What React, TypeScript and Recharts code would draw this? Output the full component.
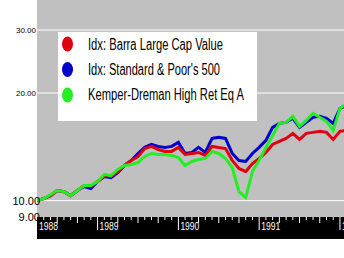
import { CartesianGrid, Legend, Line, LineChart, ReferenceLine, XAxis, YAxis } from 'recharts';

const MONTHS = [
  'Apr 1988', 'May 1988', 'Jun 1988', 'Jul 1988', 'Aug 1988', 'Sep 1988', 'Oct 1988', 'Nov 1988', 'Dec 1988',
  'Jan 1989', 'Feb 1989', 'Mar 1989', 'Apr 1989', 'May 1989', 'Jun 1989', 'Jul 1989', 'Aug 1989', 'Sep 1989',
  'Oct 1989', 'Nov 1989', 'Dec 1989',
  'Jan 1990', 'Feb 1990', 'Mar 1990', 'Apr 1990', 'May 1990', 'Jun 1990', 'Jul 1990', 'Aug 1990', 'Sep 1990',
  'Oct 1990', 'Nov 1990', 'Dec 1990',
  'Jan 1991', 'Feb 1991', 'Mar 1991', 'Apr 1991', 'May 1991', 'Jun 1991', 'Jul 1991', 'Aug 1991', 'Sep 1991',
  'Oct 1991', 'Nov 1991', 'Dec 1991',
  'Jan 1992', 'Feb 1992',
];

const BARRA_VALUE = [
  10.0, 10.13, 10.33, 10.67, 10.6, 10.33, 10.67, 11.02, 10.95, 11.31, 11.75, 11.68, 12.06, 12.54, 12.95, 13.29,
  13.99, 14.18, 13.9, 13.73, 13.73, 14.09, 13.46, 13.55, 13.64, 13.38, 14.18, 14.09, 13.99, 12.95, 12.3, 12.06,
  12.7, 13.12, 13.64, 14.36, 14.64, 14.93, 15.42, 14.83, 15.42, 15.52, 15.62, 15.52, 14.83, 15.62, 15.72,
];

const SP500 = [
  10.0, 10.13, 10.33, 10.67, 10.6, 10.33, 10.67, 10.95, 10.81, 11.31, 11.68, 11.6, 11.98, 12.54, 12.95, 13.55,
  14.09, 14.36, 14.18, 14.09, 14.18, 14.55, 13.55, 13.64, 14.09, 13.64, 14.93, 15.03, 14.93, 13.55, 12.95, 12.87,
  13.55, 14.09, 14.74, 16.03, 16.45, 16.56, 16.99, 16.03, 16.56, 17.1, 17.21, 16.99, 16.45, 18.12, 18.48,
];

const KEMPER = [
  10.0, 10.13, 10.39, 10.67, 10.6, 10.33, 10.67, 11.02, 11.02, 11.31, 11.83, 11.75, 12.22, 12.54, 12.62, 12.78,
  13.29, 13.55, 13.46, 13.46, 13.38, 13.2, 12.54, 12.87, 13.03, 13.12, 13.73, 13.55, 13.12, 12.38, 10.6, 10.2,
  12.06, 12.95, 14.09, 15.22, 16.45, 16.56, 17.21, 16.13, 16.77, 17.55, 17.1, 16.66, 15.72, 18.12, 18.72,
];

const Y_TICKS = [9, 10, 20, 30];
const GRID_VALUES = [10, 20, 30];

const YEAR_LABELS = ['1988', '1989', '1990', '1991', '1992'];
const YEAR_START = [0, 9, 21, 33, 45];

const SERIES = [
  { key: 'barra', name: 'Idx: Barra Large Cap Value', color: '#e00010', textWidth: 135 },
  { key: 'sp', name: "Idx: Standard & Poor's 500", color: '#0000cc', textWidth: 132 },
  { key: 'kemper', name: 'Kemper-Dreman High Ret Eq A', color: '#22ee22', textWidth: 156 },
];

const data = MONTHS.map((label, i) => ({
  m: i,
  label,
  barra: BARRA_VALUE[i],
  sp: SP500[i],
  kemper: KEMPER[i],
}));

const monthTicks = MONTHS.map((_, i) => i);

const NARROW = "'Liberation Sans Narrow', 'Liberation Sans', Arial, sans-serif";

function YTick({ x, y, payload }: any) {
  const big = payload.value < 15;
  return (
    <text
      x={big ? x + 3 : x - 1}
      y={y + (big ? 4 : 3)}
      textAnchor="end"
      fontFamily="'Liberation Sans', Arial, sans-serif"
      fontSize={big ? 11 : 8}
      fill="#000"
    >
      {payload.value.toFixed(2)}
    </text>
  );
}

function XTick({ x, y, payload }: any) {
  const m = payload.value as number;
  const yearIdx = YEAR_START.indexOf(m);
  const monthOfYear = (m + 3) % 12; // 0 = January
  if (yearIdx === 0) {
    return (
      <text x={x + 2} y={y + 13} fill="#fff" fontFamily={NARROW} fontSize={11} textLength={19} lengthAdjust="spacingAndGlyphs">
        {YEAR_LABELS[0]}
      </text>
    );
  }
  if (yearIdx > 0) {
    return (
      <g>
        <line x1={x} x2={x} y1={y} y2={y + 13} stroke="#fff" strokeWidth={1} />
        <text x={x + 2} y={y + 13} fill="#fff" fontFamily={NARROW} fontSize={11} textLength={19} lengthAdjust="spacingAndGlyphs">
          {YEAR_LABELS[yearIdx]}
        </text>
      </g>
    );
  }
  const len = monthOfYear % 3 === 0 ? 6 : 3;
  return <line x1={x} x2={x} y1={y} y2={y + len} stroke="#fff" strokeWidth={1} />;
}

function LegendBox({ payload }: any) {
  const entries = SERIES.map((s) => {
    const p = (payload || []).find((e: any) => e.dataKey === s.key);
    return { ...s, color: p ? p.color : s.color };
  });
  return (
    <svg width={286} height={89} style={{ display: 'block', overflow: 'visible' }}>
      <rect x={0} y={0} width={199} height={89} fill="#fff" />
      {entries.map((e, i) => (
        <g key={e.key}>
          <ellipse cx={9.5} cy={12 + i * 25.5} rx={5.5} ry={7.5} fill={e.color} />
          <text
            x={30}
            y={18 + i * 25}
            fontFamily={NARROW}
            fontSize={16}
            textLength={e.textWidth}
            lengthAdjust="spacingAndGlyphs"
            fill="#000"
          >
            {e.name}
          </text>
        </g>
      ))}
    </svg>
  );
}

export default function App() {
  return (
    <div style={{ position: 'absolute', left: 0, top: 0, width: 344, height: 258, background: '#fff' }}>
      <div style={{ position: 'absolute', left: 37, top: 217, width: 307, height: 22, background: '#000' }} />
      <LineChart
        width={344}
        height={258}
        data={data}
        margin={{ top: 0, right: 0, bottom: 0, left: 0 }}
        style={{ position: 'absolute', left: 0, top: 0 }}
      >
        <CartesianGrid fill="#c0c0c0" horizontal={false} vertical={false} />
        <XAxis
          dataKey="m"
          type="number"
          domain={[0, 45.6]}
          allowDataOverflow
          ticks={monthTicks}
          interval={0}
          height={41}
          axisLine={false}
          tickLine={false}
          tickSize={0}
          tickMargin={0}
          tick={<XTick />}
        />
        <YAxis
          type="number"
          scale="log"
          domain={[9, 36.4]}
          allowDataOverflow
          ticks={Y_TICKS}
          interval={0}
          width={37}
          axisLine={false}
          tickLine={false}
          tickSize={0}
          tickMargin={0}
          tick={<YTick />}
        />
        {GRID_VALUES.map((v) => (
          <ReferenceLine key={v} y={v} stroke="#fff" strokeWidth={1} />
        ))}
        <Legend
          layout="horizontal"
          verticalAlign="middle"
          align="center"
          wrapperStyle={{ position: 'absolute', left: 58, top: 32, width: 286, height: 89 }}
          content={<LegendBox />}
        />
        <Line type="linear" dataKey="sp" name={SERIES[1].name} stroke={SERIES[1].color} strokeWidth={3} dot={false} isAnimationActive={false} />
        <Line type="linear" dataKey="barra" name={SERIES[0].name} stroke={SERIES[0].color} strokeWidth={3} dot={false} isAnimationActive={false} />
        <Line type="linear" dataKey="kemper" name={SERIES[2].name} stroke={SERIES[2].color} strokeWidth={3} dot={false} isAnimationActive={false} />
      </LineChart>
    </div>
  );
}
